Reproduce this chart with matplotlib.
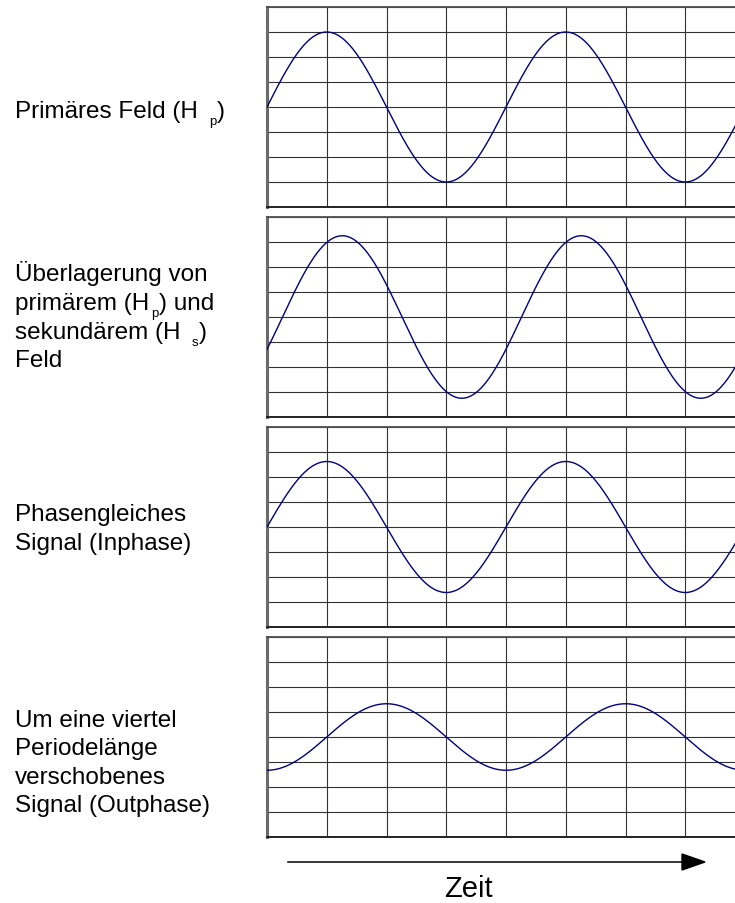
import re
import numpy as np
import matplotlib
matplotlib.use('Agg')
import matplotlib.pyplot as plt
from matplotlib.transforms import IdentityTransform
from matplotlib.lines import Line2D
from matplotlib.patches import Polygon

plt.rcParams['font.family'] = ['Liberation Sans', 'DejaVu Sans']

# Panel texts; "_x" marks a subscript character, a space before it widens the gap
panel_labels = [
    ["Primäres Feld (H _p)"],
    ["Überlagerung von", "primärem (H_p) und", "sekundärem (H _s)", "Feld"],
    ["Phasengleiches", "Signal (Inphase)"],
    ["Um eine viertel", "Periodelänge", "verschobenes", "Signal (Outphase)"],
]
# Sine parameters in grid units (one column along time, one row in amplitude)
amplitudes = [3.0, 3.25, 2.62, 1.33]
phase_lag_deg = [0.0, 23.4, 0.0, 90.0]
period_cols = 4
n_cols = 8
n_rows = 8
time_label = "Zeit"

# Layout in output pixels (measured from the top edge)
W, H = 735, 904
AX_LEFT, AX_WIDTH = 267, 478
PANEL_TOP, PANEL_H, PANEL_GAP = 8, 200, 10
label_baselines = [[118], [281, 310, 339, 367], [521, 550], [727, 755, 784, 812]]
LABEL_X = 15
FONT_PT, SUB_PT, SUB_DROP = 17.5, 9.5, 7

CURVE = '#000080'
GRID = '#333333'

fig = plt.figure(figsize=(W / 100, H / 100), dpi=100)
fig.patch.set_facecolor('white')

for i in range(len(amplitudes)):
    top = PANEL_TOP + i * (PANEL_H + PANEL_GAP)
    ax = fig.add_axes([AX_LEFT / W, (H - top - PANEL_H) / H,
                       AX_WIDTH / W, PANEL_H / H])
    t = np.linspace(0, n_cols, 1600)
    y = amplitudes[i] * np.sin(2 * np.pi * (t / period_cols - phase_lag_deg[i] / 360))
    ax.plot(t, y, color=CURVE, lw=1.0, zorder=3)
    ax.set_xlim(0, n_cols)
    ax.set_ylim(-n_rows / 2, n_rows / 2)
    ax.set_xticks(np.arange(n_cols + 1))
    ax.set_yticks(np.arange(-n_rows // 2, n_rows // 2 + 1))
    ax.tick_params(length=0, labelbottom=False, labelleft=False)
    ax.grid(True, color=GRID, lw=0.8)
    ax.set_axisbelow(True)
    ax.spines['left'].set_color('#6a6a6a')
    ax.spines['left'].set_linewidth(2.2)
    ax.spines['top'].set_color('#505050')
    ax.spines['top'].set_linewidth(1.3)
    ax.spines['bottom'].set_color('#222222')
    ax.spines['bottom'].set_linewidth(1.4)
    ax.spines['right'].set_visible(False)

renderer = fig.canvas.get_renderer()
px = IdentityTransform()


def put(x, y, s, size):
    txt = fig.text(x, y, s, fontsize=size, color='black',
                   ha='left', va='baseline', transform=px)
    return txt.get_window_extent(renderer).width


def draw_label_line(x, y, line):
    for piece in re.split(r'( ?_\w)', line):
        if not piece:
            continue
        if piece.lstrip().startswith('_'):
            x += 11 if piece.startswith(' ') else 1.5
            x += put(x, y - SUB_DROP, piece[-1], SUB_PT) + 1
        else:
            x += put(x, y, piece, FONT_PT)


for lines, bases in zip(panel_labels, label_baselines):
    for line, b in zip(lines, bases):
        draw_label_line(LABEL_X, H - b, line)

# time arrow below the panels
ay = H - 863
fig.add_artist(Line2D([288, 684], [ay, ay], color='black', lw=1.1,
                      transform=px))
fig.add_artist(Polygon([[682, ay + 8], [705, ay], [682, ay - 8]],
                       closed=True, color='black', transform=px))
fig.text(468.5, H - 897, time_label, fontsize=21, ha='center',
         va='baseline', transform=px)

plt.savefig('out.png', dpi=100)
plt.close()
